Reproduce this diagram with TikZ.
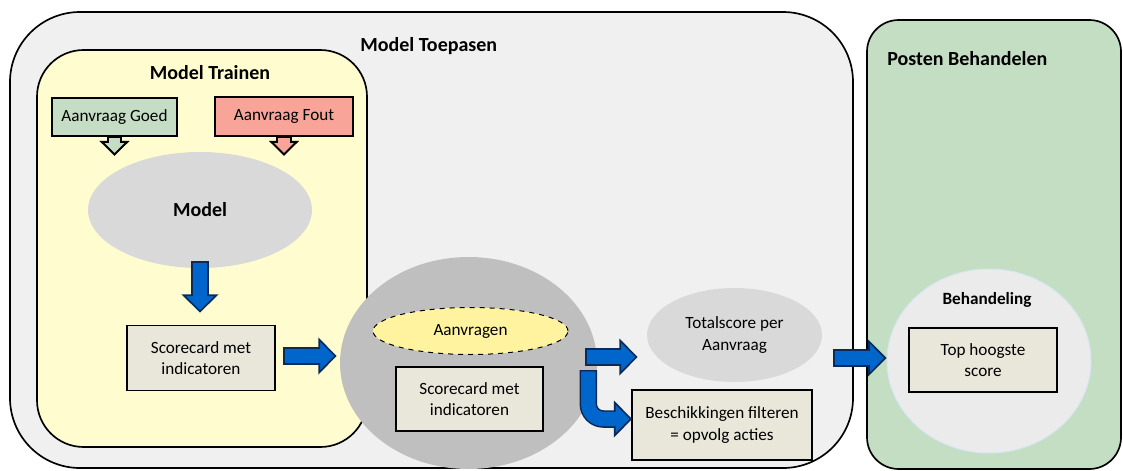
\documentclass[tikz,border=0pt]{standalone}
\usepackage{fontspec}
\setmainfont{Carlito}
\usetikzlibrary{arrows.meta,shapes.geometric,fit,calc}

\definecolor{achtergrond}{HTML}{F0F0F0}
\definecolor{traingeel}{HTML}{FFFDCF}
\definecolor{postengroen}{HTML}{C3DEC3}
\definecolor{goedgroen}{HTML}{C5DCC5}
\definecolor{foutrood}{HTML}{F8A499}
\definecolor{modelgrijs}{HTML}{D9D9D9}
\definecolor{kaart}{HTML}{E9E7DA}
\definecolor{poolgrijs}{HTML}{BFBFBF}
\definecolor{aanvrgeel}{HTML}{FFF3A0}
\definecolor{behandgrijs}{HTML}{EBEBEB}
\definecolor{blauw}{HTML}{0066CC}
\definecolor{donkerblauw}{HTML}{0B2A55}

\begin{document}
\begin{tikzpicture}[x=0.6pt, y=-0.6pt,
  every node/.style={font=\fontsize{10.3}{13}\selectfont, inner sep=0pt},
  bak/.style={draw, line width=1pt, rounded corners=#1},
  vak/.style={draw, line width=1pt, fill=kaart, align=center},
  ovaal/.style={ellipse, align=center},
  titel/.style={font=\fontsize{12}{14}\selectfont\bfseries},
  pijl/.style 2 args={draw=#1, line width=8.5pt, shorten <=1pt,
    -{Triangle[length=11pt, width=22pt, fill=#1, color=#2, line width=1pt]},
    preaction={draw=#2, line width=10.5pt, arrows=-, shorten <=0pt, shorten >=9pt},
    postaction={draw=#1, line width=8.5pt, arrows=-, shorten >=9pt}},
  flow/.style={pijl={blauw}{donkerblauw}},
  hol/.style={draw=#1, line width=7pt, shorten <=0.5pt,
    -{Triangle[length=9pt, width=18pt, fill=#1, color=black, line width=1.2pt]},
    preaction={draw=black, line width=9.4pt, arrows=-, shorten <=0pt, shorten >=6.5pt},
    postaction={draw=#1, line width=7pt, arrows=-, shorten >=6.5pt}}]
\useasboundingbox (0,0) rectangle (1123,470);

% vakken
\node[bak=42pt, fill=achtergrond, fit={(10,12) (853,468)}] (toepas) {};
\node[bak=19pt, fill=postengroen, fit={(867,20) (1121,469)}] (posten) {};
\node[bak=28pt, fill=traingeel, fit={(37,50) (367,447)}] (trainen) {};
\node[titel, anchor=west] (toepastitel) at (360,46) {Model Toepasen};
\node[titel] (traintitel) at (210,73) {Model Trainen};
\node[titel, anchor=west] (postentitel) at (887,59) {Posten Behandelen};

% model trainen
\node[vak, fill=goedgroen, minimum width=75pt, minimum height=22.8pt] (goed) at (114.5,117) {Aanvraag Goed};
\node[vak, fill=foutrood, minimum width=82.8pt, minimum height=23.4pt] (fout) at (284,116.5) {Aanvraag Fout};
\node[ovaal, fill=modelgrijs, minimum width=134.4pt, minimum height=69.6pt] (model) at (200,210) {\bfseries\fontsize{12}{14}\selectfont Model};
\node[vak, minimum width=88.8pt, minimum height=39pt] (score1) at (201,358) {Scorecard met\\indicatoren};

\draw[hol=goedgroen] (goed.south) -- ($(goed.south)+(0,19)$);
\draw[hol=foutrood] (fout.south) -- ($(fout.south)+(0,19)$);
\draw[flow] ($(model.south)+(0,-7)$) -- ($(model.south |- score1.north)+(0,-12)$);

% model toepassen
\node[ovaal, fill=poolgrijs, minimum width=154.2pt, minimum height=127.2pt] (pool) at (468.5,363) {};
\node[ovaal, draw, dashed, line width=.6pt, fill=aanvrgeel, minimum width=117pt, minimum height=28.2pt] (aanvragen) at (470.5,331) {Aanvragen};
\node[vak, minimum width=88.2pt, minimum height=38.4pt] (score2) at (469.5,399) {Scorecard met\\indicatoren};
\node[ovaal, fill=modelgrijs, minimum width=105pt, minimum height=56.4pt] (total) at (734.5,335) {Totalscore per\\Aanvraag};
\node[vak, minimum width=108pt, minimum height=42pt] (besch) at (722,425) {Beschikkingen filteren\\= opvolg acties};

\draw[flow] ($(score1.east)+(7,-2)$) -- ($(score1.east -| pool.west)+(-3,-2)$);
\draw[flow] ($(pool.east)+(-12,-6)$) -- ($(total.west |- pool.east)+(-9,-6)$);
\draw[flow, rounded corners=9pt] ($(pool.east)+(-9,7)$) |- ($(besch.west)+(1,-6)$);

% posten behandelen
\node[ovaal, fill=behandgrijs, draw={rgb,255:red,214;green,230;blue,242}, line width=.6pt, minimum width=122.4pt, minimum height=110.4pt] (behand) at (989,361) {};
\node[font=\fontsize{10.3}{13}\selectfont\bfseries] (behandtitel) at (987,300) {Behandeling};
\node[vak, minimum width=88.8pt, minimum height=38.4pt] (top) at (983,360) {Top hoogste\\score};

\draw[flow] ($(toepas.east |- behand.west)+(-21,-3)$) -- ($(behand.west)+(0,-3)$);
\end{tikzpicture}
\end{document}
